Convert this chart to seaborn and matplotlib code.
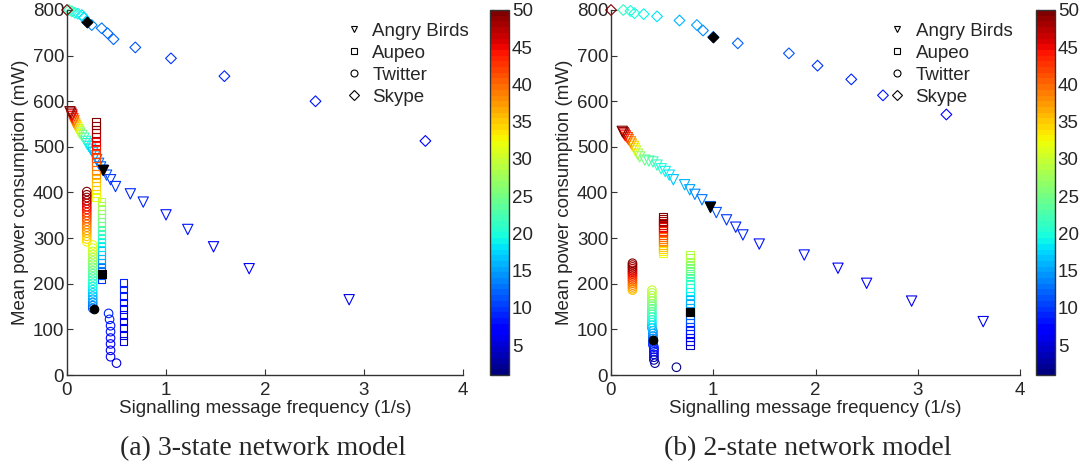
import matplotlib
matplotlib.use("Agg")
import matplotlib.pyplot as plt
from matplotlib.colors import Normalize
from matplotlib.cm import ScalarMappable
from matplotlib.lines import Line2D
import pandas as pd
import seaborn as sns

# ---- data: x = signalling frequency (1/s), y = power (mW), c = colour value ----
# (a) 3-state model
ab3_x = [0.03, 0.04, 0.05, 0.05, 0.06, 0.07, 0.07, 0.08, 0.09, 0.10, 0.11, 0.12, 0.13, 0.15, 0.17, 0.19, 0.20, 0.22,
         0.24, 0.26, 0.28, 0.30, 0.32, 0.34, 0.36, 0.40, 0.44, 0.49, 0.64, 0.77, 1.00, 1.22, 1.48, 1.84, 2.85]
ab3_y = [577, 574, 570, 566, 562, 558, 554, 550, 546, 542, 538, 534, 530, 525, 519, 512, 507, 501,
         495, 488, 480, 472, 464, 456, 449, 438, 428, 413, 397, 379, 351, 319, 281, 233, 165]
ab3_c = [50, 48, 46, 44, 42, 40, 38, 36, 34, 32, 30, 28, 26, 24, 22, 20, 19, 18,
         17, 16, 15, 14, 13, 12, 12, 11, 10, 10, 9, 9, 8, 8, 7, 7, 6]

au3_x = [0.29, 0.29, 0.29, 0.29, 0.29, 0.29, 0.29, 0.29, 0.29, 0.29, 0.29, 0.29, 0.29, 0.29, 0.29, 0.29, 0.29, 0.29, 0.29, 0.29,
         0.35, 0.35, 0.35, 0.35, 0.35, 0.35, 0.35, 0.35, 0.35, 0.35, 0.35, 0.35, 0.35, 0.35, 0.35, 0.35, 0.35, 0.35, 0.35, 0.35,
         0.57, 0.57, 0.57, 0.57, 0.57, 0.57, 0.57, 0.57, 0.57, 0.57]
au3_y = [555, 547, 538, 530, 521, 512, 503, 494, 485, 476, 467, 458, 449, 440, 431, 422, 414, 406, 398, 390,
         380, 371, 362, 353, 344, 335, 326, 317, 308, 299, 290, 281, 272, 263, 254, 245, 236, 227, 218, 210,
         201, 187, 173, 159, 145, 131, 117, 103, 88, 74]
au3_c = [50, 49, 48, 47, 46, 45, 44, 43, 42, 41, 40, 39, 38, 37, 36, 35, 34, 33, 32, 31,
         29, 28, 27, 26, 25, 24, 23, 22, 21, 20, 19, 18, 17, 16, 15, 14, 13, 12, 11, 10,
         9, 9, 8, 8, 7, 7, 6, 6, 5, 5]

tw3_x = [0.20, 0.20, 0.20, 0.20, 0.20, 0.20, 0.20, 0.20, 0.20, 0.20, 0.20, 0.20, 0.20, 0.20, 0.20, 0.20, 0.20, 0.20,
         0.26, 0.26, 0.26, 0.26, 0.26, 0.26, 0.26, 0.26, 0.26, 0.26, 0.26, 0.26, 0.26, 0.26, 0.26, 0.26, 0.26, 0.26,
         0.26, 0.26, 0.26,
         0.42, 0.43, 0.44, 0.44, 0.44, 0.44, 0.44, 0.44, 0.50]
tw3_y = [402, 395, 389, 382, 376, 369, 363, 356, 350, 343, 337, 330, 324, 317, 311, 304, 298, 292,
         285, 278, 271, 264, 257, 250, 243, 236, 229, 222, 215, 208, 201, 194, 187, 180, 173, 166,
         159, 152, 146,
         135, 122, 108, 95, 81, 68, 54, 40, 26]
tw3_c = [50, 49, 48, 47, 46, 45, 44, 43, 42, 41, 40, 39, 38, 37, 36, 35, 34, 33,
         32, 31, 30, 29, 28, 27, 26, 25, 24, 23, 22, 21, 20, 19, 18, 17, 16, 15,
         14, 13, 12,
         9, 9, 8, 8, 7, 7, 6, 6, 5]

sk3_x = [0.00, 0.02, 0.05, 0.08, 0.11, 0.15, 0.17, 0.20, 0.25, 0.35, 0.41, 0.47, 0.69, 1.05, 1.59, 2.51, 3.62]
sk3_y = [800, 800, 797, 794, 792, 789, 783, 774, 767, 760, 749, 736, 718, 694, 655, 600, 513]
sk3_c = [50, 22, 21, 20, 19, 18, 17, 15, 14, 13, 12, 12, 11, 10, 9, 8, 7]

# default configuration (black filled markers): Angry Birds, Aupeo, Twitter, Skype
def3_x = [0.36, 0.35, 0.27, 0.20]
def3_y = [449, 222, 145, 774]

# (b) 2-state model
ab2_x = [0.11, 0.12, 0.13, 0.14, 0.16, 0.17, 0.19, 0.20, 0.22, 0.23, 0.24, 0.26, 0.28,
         0.33, 0.37, 0.41, 0.45, 0.49, 0.53, 0.57, 0.61, 0.72, 0.77, 0.82, 0.89, 0.97, 1.03, 1.13,
         1.22, 1.29, 1.45, 1.89, 2.22, 2.50, 2.94, 3.64]
ab2_y = [534, 531, 528, 524, 520, 516, 511, 506, 501, 496, 491, 484, 478,
         471, 469, 467, 460, 452, 446, 438, 428, 417, 406, 396, 384, 369, 356, 340,
         324, 307, 287, 263, 234, 201, 162, 117]
ab2_c = [50, 48, 46, 44, 42, 40, 38, 36, 34, 32, 30, 28, 26,
         24, 23, 22, 21, 20, 19, 18, 17, 16, 15, 14, 13, 12, 11, 10,
         9, 9, 8, 8, 7, 7, 6, 6]

au2_x = [0.51, 0.51, 0.51, 0.51, 0.51, 0.51, 0.51, 0.51, 0.51, 0.51, 0.51, 0.51, 0.51, 0.51, 0.51, 0.51, 0.51, 0.51, 0.51,
         0.77, 0.77, 0.77, 0.77, 0.77, 0.77, 0.77, 0.77, 0.77, 0.77, 0.77, 0.77, 0.77, 0.77, 0.77, 0.77, 0.77, 0.77, 0.77,
         0.77, 0.77, 0.77, 0.77, 0.77, 0.77, 0.77]
au2_y = [347, 343, 338, 334, 329, 325, 321, 316, 312, 307, 303, 298, 294, 290, 285, 281, 276, 272, 267,
         263, 256, 249, 242, 235, 228, 221, 214, 207, 200, 191, 183, 174, 165, 157, 148, 139, 131, 123,
         114, 106, 98, 90, 82, 74, 66]
au2_c = [50, 49, 48, 47, 46, 45, 44, 43, 42, 41, 40, 39, 38, 37, 36, 35, 34, 33, 32,
         29, 28, 27, 26, 25, 24, 23, 22, 21, 20, 19, 18, 17, 16, 15, 14, 13, 12, 11,
         10, 9, 8, 7, 6, 5, 4]

tw2_x = [0.21, 0.21, 0.21, 0.21, 0.21, 0.21, 0.21, 0.21, 0.21, 0.21, 0.21, 0.21, 0.21, 0.21, 0.21, 0.21,
         0.40, 0.40, 0.40, 0.40, 0.40, 0.40, 0.40, 0.40, 0.40, 0.40, 0.40, 0.40, 0.40, 0.40, 0.40,
         0.41, 0.41, 0.41, 0.41, 0.41, 0.41, 0.41, 0.42, 0.42, 0.42, 0.42, 0.42, 0.42, 0.43,
         0.64]
tw2_y = [245, 241, 237, 233, 229, 225, 221, 217, 213, 209, 205, 201, 197, 193, 189, 186,
         186, 180, 174, 168, 162, 156, 151, 145, 139, 133, 127, 121, 115, 109, 103,
         97, 91, 85, 80, 76, 71, 66, 61, 56, 51, 45, 39, 33, 26,
         17]
tw2_c = [50, 49, 48, 47, 46, 45, 44, 43, 42, 41, 40, 39, 38, 37, 36, 35,
         30, 29, 28, 27, 26, 25, 24, 23, 22, 21, 20, 19, 18, 17, 16,
         15, 14, 13, 12, 11, 10, 9, 8, 7, 6, 5, 4, 3, 2,
         1]

sk2_x = [0.00, 0.12, 0.19, 0.23, 0.32, 0.45, 0.67, 0.84, 0.90, 1.00, 1.24, 1.74, 2.02, 2.35, 2.66, 3.28]
sk2_y = [800, 800, 798, 793, 791, 786, 777, 767, 755, 741, 727, 705, 678, 648, 613, 571]
sk2_c = [50, 21, 20, 20, 19, 18, 16, 15, 14, 13, 12, 11, 10, 9, 8, 7]

def2_x = [0.97, 0.77, 0.41, 1.00]
def2_y = [369, 139, 77, 741]

apps = ["Angry Birds", "Aupeo", "Twitter", "Skype"]
markers = ["v", "s", "o", "D"]
sizes = [55, 30, 38, 30]

# ---- style ----
sns.set_style("ticks")
plt.rcParams["font.family"] = ["Liberation Sans", "DejaVu Sans"]
FS = 13.5
cmap = plt.get_cmap("jet", 64)
norm = Normalize(vmin=1, vmax=50)

fig = plt.figure(figsize=(10.87, 4.73), dpi=100)
W, H = 1087, 473


def panel(px_left, px_width, cb_left, series, def_x, def_y, leg_x):
    ax = fig.add_axes([px_left / W, 98 / H, px_width / W, 365 / H])
    cax = fig.add_axes([cb_left / W, 98 / H, 19 / W, 365 / H])

    for (xs, ys, cs), m, s in zip(series, markers, sizes):
        df = pd.DataFrame({"x": xs, "y": ys, "c": cs}).sort_values("c", kind="stable")
        sns.scatterplot(data=df, x="x", y="y", hue="c", palette=cmap, hue_norm=norm,
                        marker=m, s=s, linewidth=0.8, legend=False, ax=ax, clip_on=False)
        pts = ax.collections[-1]
        pts.set_edgecolors(pts.get_facecolors())
        pts.set_facecolors("none")

    # default settings drawn as black filled markers
    for i, (m, s) in enumerate(zip(markers, sizes)):
        sns.scatterplot(x=[def_x[i]], y=[def_y[i]], color="black", marker=m, s=s,
                        edgecolor="black", linewidth=0.8, legend=False, ax=ax, clip_on=False)

    ax.set_xlim(0, 4)
    ax.set_ylim(0, 800)
    ax.set_xticks([0, 1, 2, 3, 4])
    ax.set_yticks(range(0, 801, 100))
    ax.spines[["top", "right"]].set_visible(False)
    for sp in ["left", "bottom"]:
        ax.spines[sp].set_color("#333333")
        ax.spines[sp].set_linewidth(1.0)
    ax.tick_params(direction="in", length=4, width=0.8, labelsize=FS, color="#333333")
    ax.tick_params(axis="x", pad=5)
    ax.tick_params(axis="y", pad=2)
    ax.set_xlabel("Signalling message frequency (1/s)", fontsize=FS, labelpad=1)
    ax.set_ylabel("Mean power consumption (mW)", fontsize=FS, labelpad=3)

    handles = [Line2D([], [], ls="", marker=m, mfc="none", mec="black", ms=5, mew=0.8) for m in ["v", "s", "o", "D"]]
    ax.legend(handles, apps, loc="upper left", bbox_to_anchor=(leg_x, 0.966), frameon=False,
              fontsize=FS, handlelength=1.0, handletextpad=0.5, labelspacing=0.26,
              borderpad=0, borderaxespad=0)

    cb = fig.colorbar(ScalarMappable(norm=norm, cmap=cmap), cax=cax, ticks=range(5, 51, 5))
    cb.outline.set_edgecolor("#333333")
    cb.outline.set_linewidth(1.0)
    cax.yaxis.set_ticks_position("both")
    cax.tick_params(direction="in", length=3, width=0.8, labelsize=FS, pad=2,
                    labelleft=False, labelright=True, color="#333333")
    return ax


panel(67, 396, 490,
      [(ab3_x, ab3_y, ab3_c), (au3_x, au3_y, au3_c), (tw3_x, tw3_y, tw3_c), (sk3_x, sk3_y, sk3_c)],
      def3_x, def3_y, 0.70)
panel(611, 409, 1036,
      [(ab2_x, ab2_y, ab2_c), (au2_x, au2_y, au2_c), (tw2_x, tw2_y, tw2_c), (sk2_x, sk2_y, sk2_c)],
      def2_x, def2_y, 0.676)

cap_font = ["Liberation Serif", "DejaVu Serif"]
fig.text(263 / W, 1 - 449 / H, "(a) 3-state network model", ha="center", va="center",
         fontsize=20, family=cap_font)
fig.text(808 / W, 1 - 449 / H, "(b) 2-state network model", ha="center", va="center",
         fontsize=20, family=cap_font)

fig.savefig("out.png", dpi=100, facecolor="white")
plt.close(fig)
